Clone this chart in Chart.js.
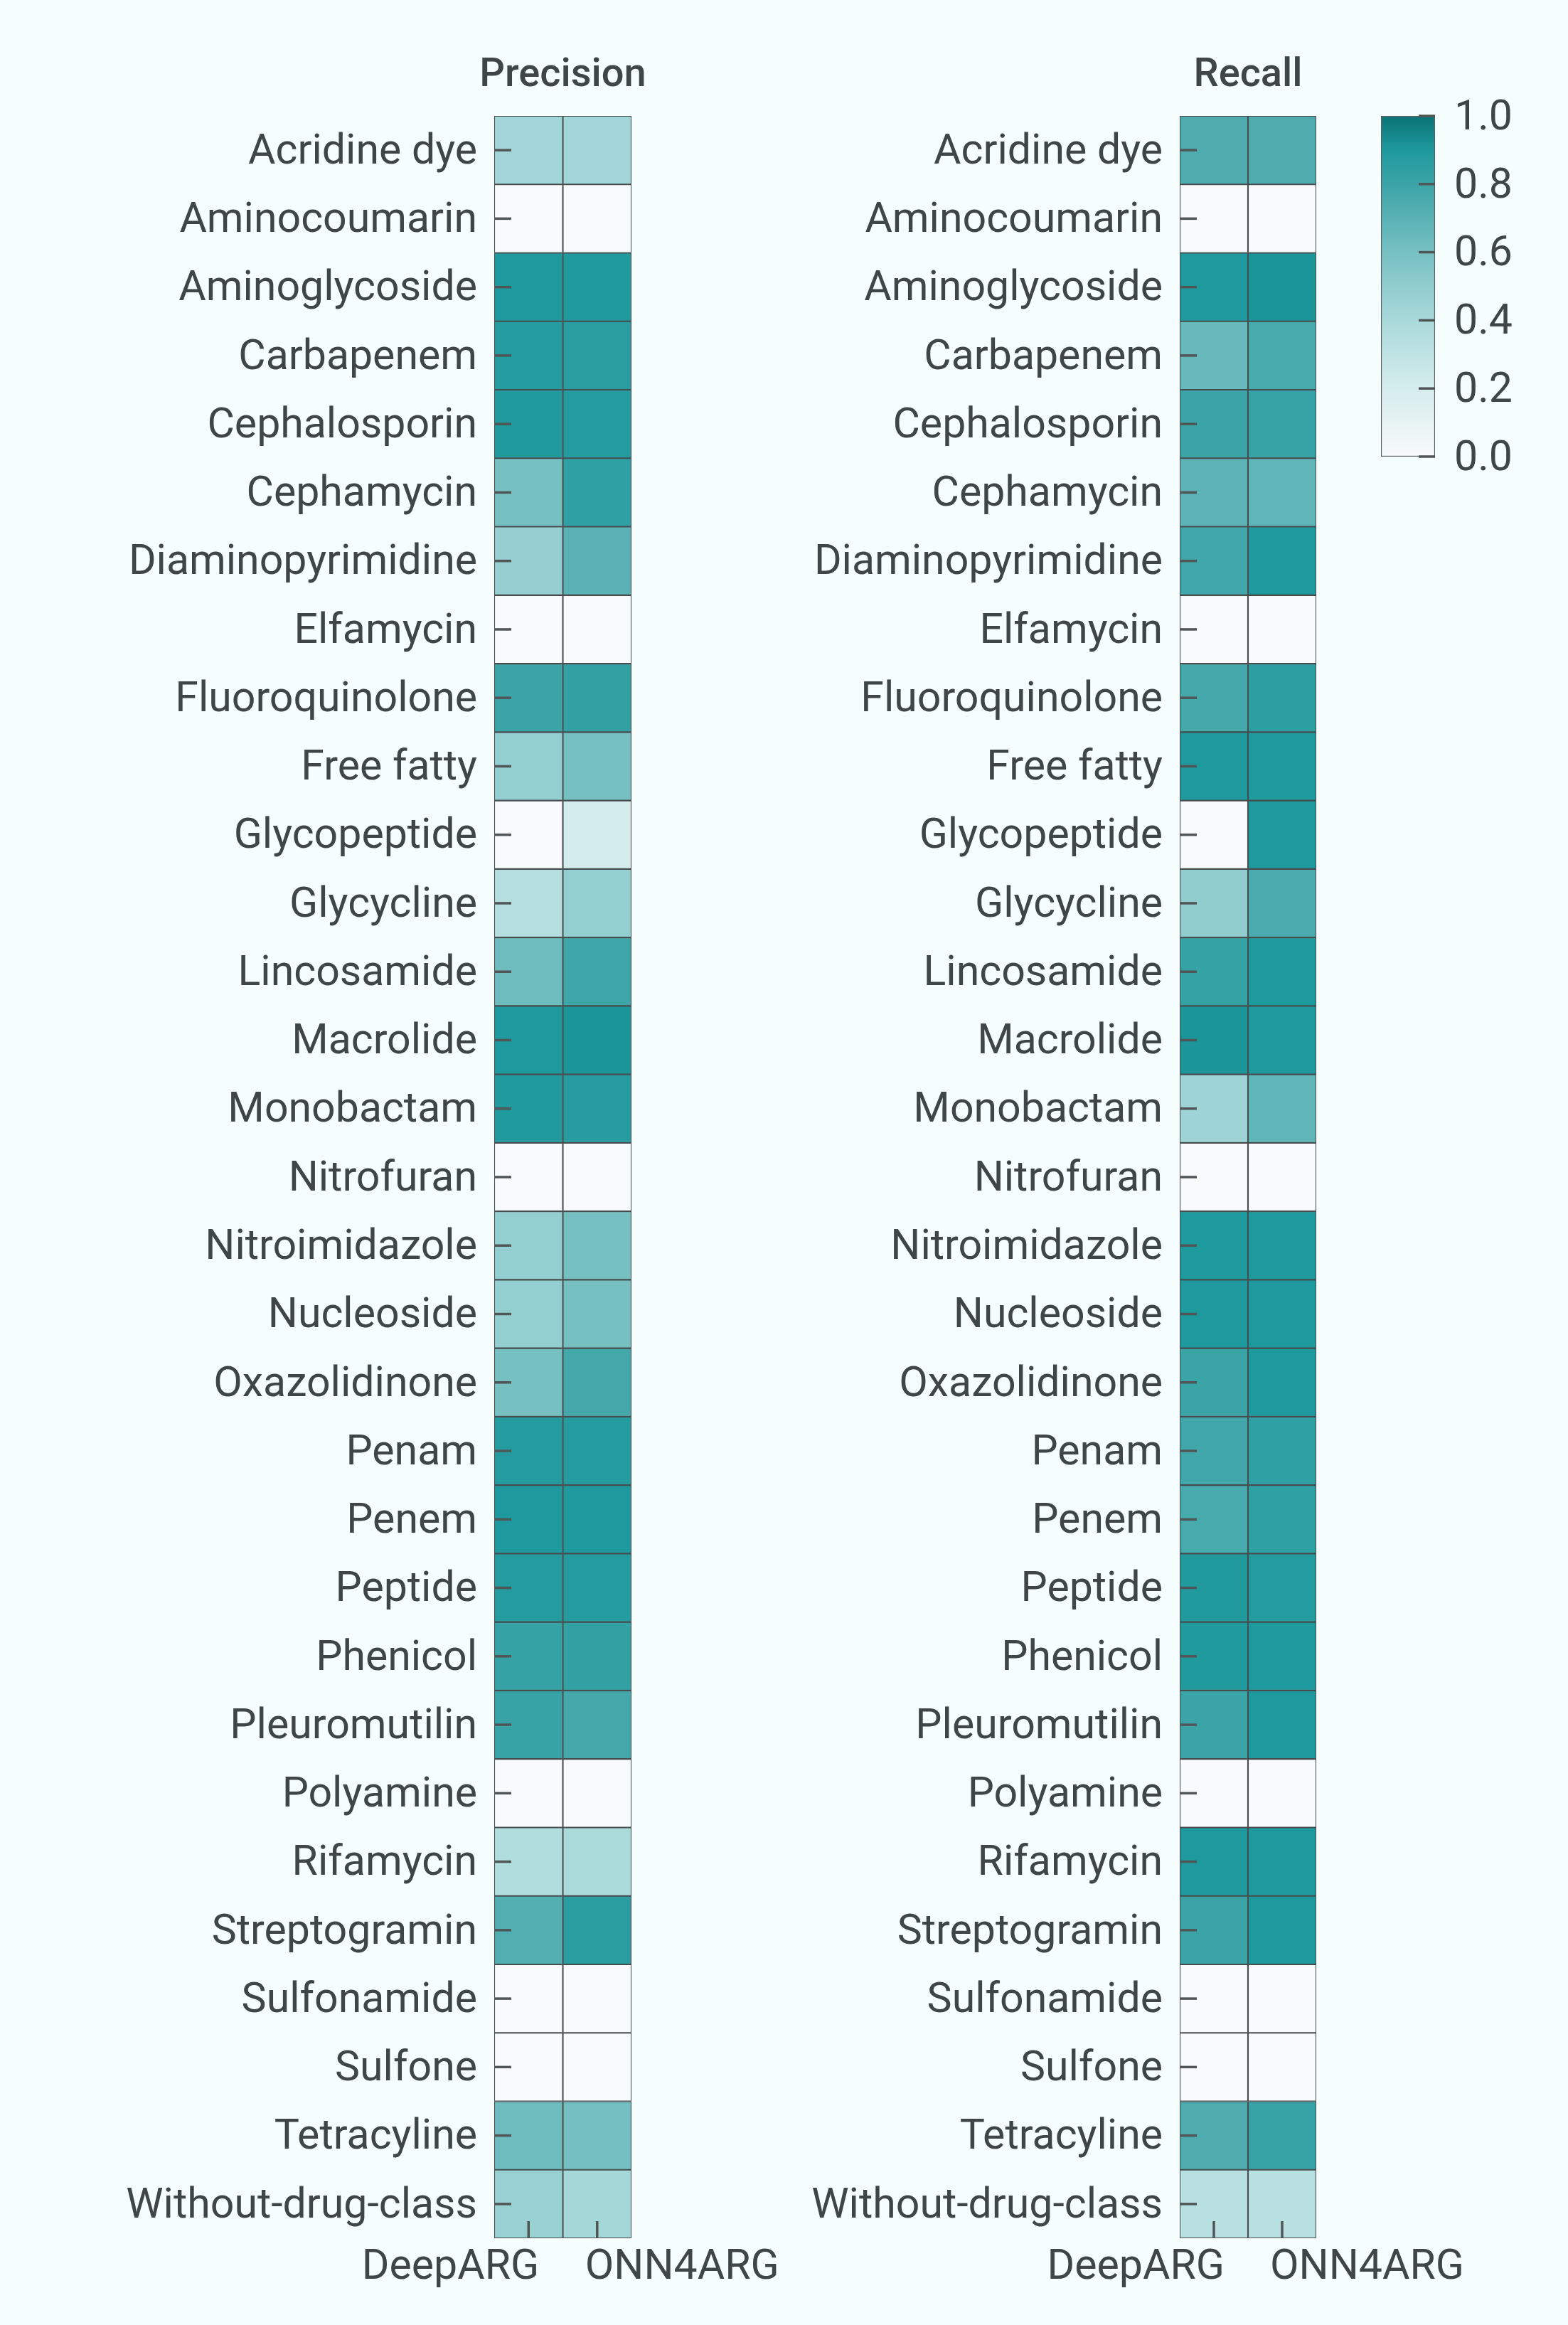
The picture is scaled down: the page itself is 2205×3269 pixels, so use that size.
<!DOCTYPE html>
<html lang="en">
<head>
  <meta charset="UTF-8" />
  <title>Precision / Recall per drug class</title>
  <script src="https://cdn.jsdelivr.net/npm/chart.js"></script>
  <style>
    body {
      margin: 0;
      background: #F5FEFD;
      width: 2205px;
      height: 3269px;
      position: relative;
      overflow: hidden;
    }
    .box { position: absolute; top: 0; height: 3269px; }
    #precisionBox { left: 0; width: 1100px; }
    #recallBox { left: 1100px; width: 1105px; }
    #barBox { left: 1900px; width: 305px; }
  </style>
</head>
<body>
  <div class="box" id="precisionBox"><canvas id="precisionChart"></canvas></div>
  <div class="box" id="recallBox"><canvas id="recallChart"></canvas></div>
  <div class="box" id="barBox"><canvas id="colorbar"></canvas></div>

  <script>
    const classes = [
      "Acridine dye", "Aminocoumarin", "Aminoglycoside", "Carbapenem", "Cephalosporin",
      "Cephamycin", "Diaminopyrimidine", "Elfamycin", "Fluoroquinolone", "Free fatty",
      "Glycopeptide", "Glycycline", "Lincosamide", "Macrolide", "Monobactam",
      "Nitrofuran", "Nitroimidazole", "Nucleoside", "Oxazolidinone", "Penam",
      "Penem", "Peptide", "Phenicol", "Pleuromutilin", "Polyamine",
      "Rifamycin", "Streptogramin", "Sulfonamide", "Sulfone", "Tetracyline",
      "Without-drug-class"
    ];
    const methods = ["DeepARG", "ONN4ARG"];

    const precisionDeepARG = [0.43, 0, 0.90, 0.88, 0.89, 0.60, 0.48, 0, 0.80, 0.49,
      0, 0.35, 0.63, 0.90, 0.89, 0, 0.49, 0.49, 0.60, 0.88,
      0.90, 0.88, 0.82, 0.81, 0, 0.36, 0.73, 0, 0, 0.63, 0.47];
    const precisionONN4ARG = [0.43, 0, 0.89, 0.86, 0.88, 0.84, 0.70, 0, 0.83, 0.60,
      0.20, 0.49, 0.79, 0.91, 0.87, 0, 0.60, 0.60, 0.77, 0.88,
      0.90, 0.88, 0.83, 0.77, 0, 0.39, 0.86, 0, 0, 0.61, 0.42];
    const recallDeepARG = [0.74, 0, 0.90, 0.65, 0.80, 0.69, 0.78, 0, 0.77, 0.90,
      0, 0.50, 0.82, 0.91, 0.44, 0, 0.90, 0.90, 0.80, 0.78,
      0.76, 0.89, 0.89, 0.80, 0, 0.90, 0.80, 0, 0, 0.74, 0.33];
    const recallONN4ARG = [0.74, 0, 0.91, 0.76, 0.81, 0.68, 0.90, 0, 0.85, 0.90,
      0.90, 0.75, 0.90, 0.90, 0.68, 0, 0.90, 0.90, 0.90, 0.84,
      0.84, 0.88, 0.90, 0.90, 0, 0.90, 0.90, 0, 0, 0.81, 0.33];

    const colorbarTicks = [0, 0.2, 0.4, 0.6, 0.8, 1.0];

    // colour map
    const cmapStops = [0, 0.1, 0.2, 0.3, 0.4, 0.5, 0.6, 0.7, 0.8, 0.9, 1.0];
    const cmapColors = ["#F8FAFC", "#E8F3F4", "#D5ECED", "#C0E3E4", "#A9D9DA", "#91CDCF",
      "#76C0C2", "#5AB2B5", "#3BA4A7", "#1E999D", "#0B7275"];

    const textColor = "#404647";
    const lineColor = "#474D4E";
    const font = { family: "Roboto", size: 59 };

    function hexToRgb(h) {
      const n = parseInt(h.slice(1), 16);
      return [(n >> 16) & 255, (n >> 8) & 255, n & 255];
    }
    function cmap(v) {
      for (let i = 1; i < cmapStops.length; i++) {
        if (v <= cmapStops[i]) {
          const t = (v - cmapStops[i - 1]) / (cmapStops[i] - cmapStops[i - 1]);
          const a = hexToRgb(cmapColors[i - 1]), b = hexToRgb(cmapColors[i]);
          const c = a.map((x, k) => Math.round(x + (b[k] - x) * t));
          return `rgb(${c[0]},${c[1]},${c[2]})`;
        }
      }
      return cmapColors[cmapColors.length - 1];
    }

    // ticks drawn inward, like the original figure
    const innerTicks = {
      id: "innerTicks",
      afterDatasetsDraw(chart, args, opts) {
        const { ctx, chartArea: a } = chart;
        ctx.save();
        ctx.strokeStyle = opts.color;
        ctx.lineWidth = opts.width;
        (opts.axes || []).forEach(id => {
          const s = chart.scales[id];
          s.ticks.forEach((t, i) => {
            const p = s.getPixelForTick(i);
            ctx.beginPath();
            if (s.position === "left") {
              ctx.moveTo(a.left, p); ctx.lineTo(a.left + opts.length, p);
            } else if (s.position === "right") {
              ctx.moveTo(a.right, p); ctx.lineTo(a.right - opts.length, p);
            } else {
              ctx.moveTo(p, a.bottom); ctx.lineTo(p, a.bottom - opts.length);
            }
            ctx.stroke();
          });
        });
        ctx.restore();
      }
    };

    // method names under the columns (first pushed left, second pushed right)
    // and the panel title centred over the cells
    const panelText = {
      id: "panelText",
      afterDraw(chart, args, opts) {
        const { ctx, chartArea: a } = chart;
        const s = chart.scales.x;
        ctx.save();
        ctx.fillStyle = textColor;
        ctx.textBaseline = "alphabetic";
        ctx.font = `${font.size}px ${font.family}`;
        s.ticks.forEach((t, i) => {
          const p = s.getPixelForTick(i);
          ctx.textAlign = i === 0 ? "right" : "left";
          ctx.fillText(methods[i], p + (i === 0 ? 15 : -17), a.bottom + 57);
        });
        ctx.font = `500 56px ${font.family}`;
        ctx.textAlign = "center";
        ctx.fillText(opts.title, (a.left + a.right) / 2, a.top - 42);
        ctx.restore();
      }
    };

    function heatmap(canvasId, title, deep, onn, yWidth, padRight) {
      const cols = [deep, onn];
      new Chart(document.getElementById(canvasId), {
        type: "bar",
        data: {
          labels: classes,
          datasets: cols.map((vals, m) => ({
            label: methods[m],
            data: vals.map(() => [m, m + 1]),
            backgroundColor: vals.map(cmap),
            borderColor: lineColor,
            borderWidth: 1.4,
            borderSkipped: false,
            grouped: false,
            barPercentage: 1,
            categoryPercentage: 1
          }))
        },
        options: {
          indexAxis: "y",
          responsive: true,
          maintainAspectRatio: false,
          animation: false,
          layout: { padding: { left: 0, right: padRight, top: 163, bottom: 0 } },
          plugins: {
            legend: { display: false },
            tooltip: { enabled: false },
            innerTicks: { axes: ["y", "x"], color: "#505556", width: 3.5, length: 24 },
            panelText: { title: title }
          },
          scales: {
            y: {
              type: "category",
              position: "left",
              grid: { display: false, drawTicks: false },
              border: { display: false },
              ticks: { color: textColor, font: font, padding: 24, labelOffset: 4 },
              afterFit: s => { s.width = yWidth; }
            },
            x: {
              type: "linear",
              position: "bottom",
              min: 0,
              max: 2,
              grid: { display: false, drawTicks: false },
              border: { display: false },
              afterBuildTicks: s => { s.ticks = [0.5, 1.5].map(v => ({ value: v })); },
              ticks: { display: false },
              afterFit: s => { s.height = 122; }
            }
          }
        },
        plugins: [innerTicks, panelText]
      });
    }

    heatmap("precisionChart", "Precision", precisionDeepARG, precisionONN4ARG, 695, 212);
    heatmap("recallChart", "Recall", recallDeepARG, recallONN4ARG, 559, 354);

    // colour bar
    new Chart(document.getElementById("colorbar"), {
      type: "bar",
      data: {
        labels: ["scale"],
        datasets: [{
          data: [[0, 1]],
          backgroundColor: ctx => {
            const chart = ctx.chart;
            if (!chart.chartArea) return cmapColors[0];
            const y = chart.scales.y;
            const g = chart.ctx.createLinearGradient(0, y.getPixelForValue(0), 0, y.getPixelForValue(1));
            cmapStops.forEach((s, i) => g.addColorStop(s, cmapColors[i]));
            return g;
          },
          borderColor: "#5A6061",
          borderWidth: 1.5,
          borderSkipped: false,
          barPercentage: 1,
          categoryPercentage: 1
        }]
      },
      options: {
        responsive: true,
        maintainAspectRatio: false,
        animation: false,
        layout: { padding: { left: 42, right: 0, top: 163, bottom: 2627 } },
        plugins: {
          legend: { display: false },
          tooltip: { enabled: false },
          innerTicks: { axes: ["y"], color: "#505556", width: 3.5, length: 23 }
        },
        scales: {
          x: { display: false },
          y: {
            position: "right",
            min: 0,
            max: 1,
            afterBuildTicks: s => { s.ticks = colorbarTicks.map(v => ({ value: v })); },
            grid: { display: false, drawTicks: false },
            border: { display: false },
            ticks: { color: textColor, font: font, padding: 27, labelOffset: 4, callback: v => v.toFixed(1) },
            afterFit: s => { s.width = 187; }
          }
        }
      },
      plugins: [innerTicks]
    });
  </script>
</body>
</html>
